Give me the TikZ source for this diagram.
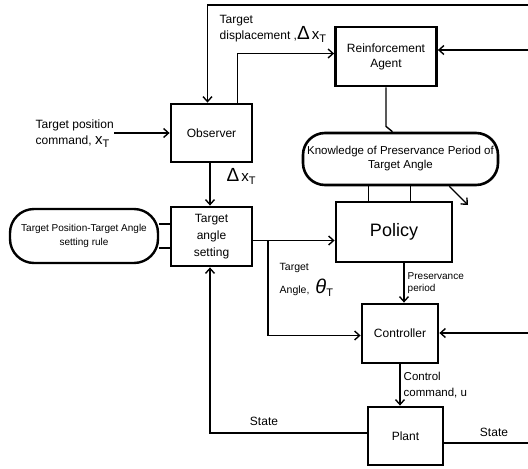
\documentclass[tikz,border=0pt]{standalone}
\usepackage{fontspec}
\setmainfont{Liberation Sans}
\usetikzlibrary{arrows.meta, calc}

\newcommand{\subT}{\raisebox{-0.45ex}{\fontsize{11}{11}\selectfont T}}
\newcommand{\dxT}{{\fontsize{19}{19}\selectfont Δ}\,{\fontsize{15}{15}\selectfont x}\subT}

\begin{document}
\begin{tikzpicture}[x=1pt, y=-1pt, >={Straight Barb[length=5pt,width=9pt]}, line width=1.4pt,
    block/.style={draw, line width=2.8pt, align=center, inner sep=1pt, font=\fontsize{12}{15}\selectfont},
    roundblock/.style={block, line width=2.6pt, rounded corners=22pt},
    lbl/.style={align=left, inner sep=0pt, font=\fontsize{12}{16}\selectfont},
    small lbl/.style={lbl, font=\fontsize{10}{12.5}\selectfont}]
  \useasboundingbox (0,0) rectangle (528,469);

  \node[block, minimum width=81pt, minimum height=58pt]  (obs)    at (211.5,133)  {Observer};
  \node[block, minimum width=101pt, minimum height=59pt] (ra)     at (386,56.5)   {Reinforcement\\Agent};
  \node[roundblock, minimum width=195pt, minimum height=52pt, font=\fontsize{11.5}{14}\selectfont]
                                                         (know)   at (400.5,159)  {Knowledge of Preservance Period of\\Target Angle};
  \node[block, minimum width=116pt, minimum height=60pt, font=\fontsize{18}{18}\selectfont]
                                                         (policy) at (394,232)    {Policy};
  \node[block, minimum width=81pt, minimum height=59pt, font=\fontsize{12}{17}\selectfont]
                                                         (tas)    at (211.5,236.5) {Target\\angle\\setting};
  \node[roundblock, line width=2.4pt, minimum width=148pt, minimum height=54pt, rounded corners=24pt, font=\fontsize{10}{14}\selectfont]
                                                         (rule)   at (84,236)     {Target Position-Target Angle\\setting rule};
  \node[block, minimum width=76pt, minimum height=59pt]  (ctrl)   at (400,333.5)  {Controller};
  \node[block, minimum width=75pt, minimum height=58pt]  (plant)  at (405.5,436)  {Plant};

  % loose ends at the right edge
  \coordinate (rtop) at (528,5);
  \coordinate (rin)  at (528,50);
  \coordinate (cin)  at (528,333);
  \coordinate (rout) at (528,443);
  \coordinate (kend) at (468,205);
  \coordinate (split) at (268,240);

  % labels
  \node[lbl, anchor=north west] (cmd) at (35,119) {Target position\\command, {\fontsize{15}{15}\selectfont x}\subT};
  \node[lbl, anchor=north west] (disp) at (219,15) {Target\\displacement ,\dxT};
  \node[lbl, anchor=north west] (ang) at (279,263) {\fontsize{10.5}{12}\selectfont Target\\[5pt]\fontsize{10.5}{12}\selectfont Angle,\hspace{6pt}{\fontsize{20}{20}\selectfont\itshape θ}\subT};
  \node[lbl] (stl) at (264,421) {State};
  \node[lbl] (str) at (494,432) {State};

  % connectors
  \draw[->] (cmd.east |- obs.west) -- (obs.west);
  \draw[->] (rtop) -| ([xshift=-4pt]obs.north);
  \draw[->] ([xshift=26pt]obs.north) |- ([yshift=3pt]ra.west);
  \draw[->] (rin) -- (rin -| ra.east);
  \draw (ra.south) -- ++(0,39) -- ([xshift=-8pt]know.north);
  \draw ([xshift=-32pt]know.south) -- ([xshift=-32pt]know.south |- policy.north);
  \draw ([xshift=10pt]know.south) -- ([xshift=10pt]know.south |- policy.north);
  \draw[->] ([xshift=-50pt]know.south east) -- (kend);
  \draw ([yshift=12pt]rule.east) -- ([yshift=12pt]rule.east -| tas.west);
  \draw ([yshift=-12pt]rule.east) -- ([yshift=-12pt]rule.east -| tas.west);

  \path[->] ([xshift=-1.5pt]obs.south) edge node[lbl, right, pos=0.3, xshift=16pt] {\dxT} ([xshift=-1.5pt]tas.north);
  \draw[->] ([yshift=-4pt]tas.east) -- ([yshift=-4pt]tas.east -| policy.west);
  \draw[->] (split) |- ([yshift=-2pt]ctrl.west);
  \path[->] ([xshift=10pt]policy.south) edge node[small lbl, right, xshift=3pt] {Preservance\\period} ([xshift=10pt]policy.south |- ctrl.north);
  \draw[->] (cin) -- (cin -| ctrl.east);
  \path[->] (ctrl.south) edge node[lbl, right, xshift=3pt, font=\fontsize{11.5}{16}\selectfont] {Control\\command, u} (ctrl.south |- plant.north);
  \draw[->] ([yshift=3pt]plant.west) -| ([xshift=-1.5pt]tas.south);
  \draw ([yshift=-7pt]plant.east) -- (rout);
\end{tikzpicture}
\end{document}
